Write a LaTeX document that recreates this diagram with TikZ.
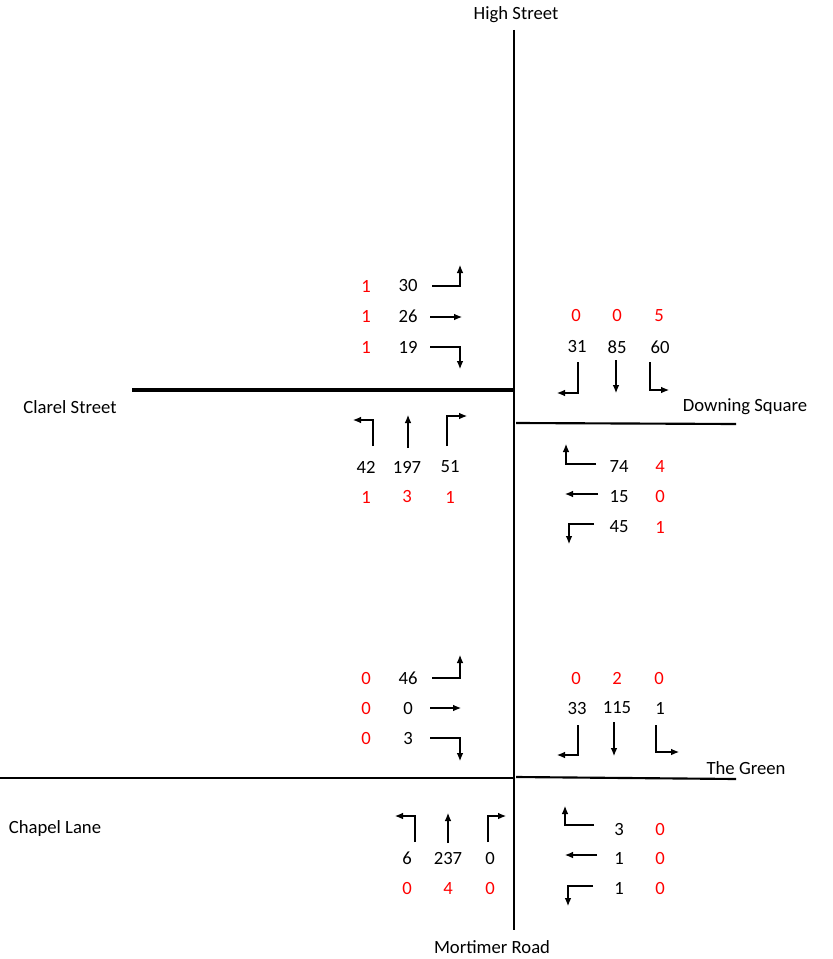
\documentclass[tikz,border=0pt]{standalone}
\usepackage{fontspec}
\setmainfont{Carlito}
\usetikzlibrary{arrows.meta}

\begin{document}
\begin{tikzpicture}[x=0.75pt, y=-0.75pt,
  every node/.style={font=\fontsize{14pt}{16pt}\selectfont, inner sep=0pt},
  road/.style={line width=1.6pt},
  turn/.style={line width=0.8pt, -{Latex[length=6pt,width=5pt]}},
  cnt/.style={text=black},
  hvy/.style={text=red}]
  \useasboundingbox (0,0) rectangle (832,959);

  % roads
  \coordinate (hsN) at (514,30);
  \coordinate (hsS) at (514,930);
  \coordinate (clW) at (132,390);
  \coordinate (clE) at (514,390);
  \coordinate (dsW) at (516,423);
  \coordinate (dsE) at (736,424);
  \coordinate (cpW) at (0,778);
  \coordinate (cpE) at (514,778);
  \coordinate (tgW) at (516,777);
  \coordinate (tgE) at (736,779);
  \draw[road, line width=1.9pt] (hsN) -- (hsS);
  \draw[road, line width=2.3pt] (clW) -- (clE);
  \draw[road] (dsW) -- (dsE);
  \draw[road] (cpW) -- (cpE);
  \draw[road] (tgW) -- (tgE);

  % street names
  \node (high)   at (516,15)  {High Street};
  \node (clarel) at (70,407)  {Clarel Street};
  \node (downing) at (745,407) {Downing Square};
  \node (green)  at (746,768) {The Green};
  \node (chapel) at (55,829)  {Chapel Lane};
  \node (mortimer) at (492,947) {Mortimer Road};

  % Clarel Street approach (upper left)
  \node[hvy] (ca1) at (366,286) {1};  \node[cnt] (cb1) at (408,286) {30};
  \node[hvy] (ca2) at (366,316) {1};  \node[cnt] (cb2) at (408,316) {26};
  \node[hvy] (ca3) at (366,347) {1};  \node[cnt] (cb3) at (408,347) {19};
  \draw[turn] (432,286) -| (460,265);
  \draw[turn] (430,317) -- (462,317);
  \draw[turn] (430,347) -| (460,369);

  % High Street north approach (upper right)
  \node[hvy] (na1) at (576,316) {0};  \node[cnt] (nb1) at (577,347) {31};
  \node[hvy] (na2) at (617,316) {0};  \node[cnt] (nb2) at (617,347) {85};
  \node[hvy] (na3) at (659,316) {5};  \node[cnt] (nb3) at (660,347) {60};
  \draw[turn] (578,362) |- (557,393);
  \draw[turn] (616,360) -- (616,393);
  \draw[turn] (650,362) |- (669,390);

  % High Street south approach (middle left)
  \node[cnt] (sb1) at (366,467) {42};  \node[hvy] (sa1) at (366,497) {1};
  \node[cnt] (sb2) at (407,467) {197}; \node[hvy] (sa2) at (407,497) {3};
  \node[cnt] (sb3) at (450,467) {51};  \node[hvy] (sa3) at (450,497) {1};
  \draw[turn] (373,446) |- (353,420);
  \draw[turn] (408,448) -- (408,415);
  \draw[turn] (447,446) |- (467,416);

  % Downing Square approach (middle right)
  \node[cnt] (db1) at (619,467) {74};  \node[hvy] (da1) at (660,467) {4};
  \node[cnt] (db2) at (619,497) {15};  \node[hvy] (da2) at (660,497) {0};
  \node[cnt] (db3) at (619,527) {45};  \node[hvy] (da3) at (660,527) {1};
  \draw[turn] (596,464) -| (566,444);
  \draw[turn] (598,494) -- (565,494);
  \draw[turn] (594,524) -| (569,544);

  % Chapel Lane approach (lower left)
  \node[hvy] (pa1) at (366,678) {0};  \node[cnt] (pb1) at (408,678) {46};
  \node[hvy] (pa2) at (366,708) {0};  \node[cnt] (pb2) at (408,708) {0};
  \node[hvy] (pa3) at (366,738) {0};  \node[cnt] (pb3) at (408,738) {3};
  \draw[turn] (432,678) -| (460,655);
  \draw[turn] (430,708) -- (461,708);
  \draw[turn] (430,738) -| (460,761);

  % High Street approach (lower right, top)
  \node[hvy] (ma1) at (576,678) {0};  \node[cnt] (mb1) at (577,708) {33};
  \node[hvy] (ma2) at (617,678) {2};  \node[cnt] (mb2) at (617,708) {115};
  \node[hvy] (ma3) at (659,678) {0};  \node[cnt] (mb3) at (660,708) {1};
  \draw[turn] (578,725) |- (557,755);
  \draw[turn] (614,722) -- (614,756);
  \draw[turn] (656,725) |- (679,752);

  % Mortimer Road approach (bottom left)
  \node[cnt] (rb1) at (407,858) {6};   \node[hvy] (ra1) at (407,888) {0};
  \node[cnt] (rb2) at (448,858) {237}; \node[hvy] (ra2) at (448,888) {4};
  \node[cnt] (rb3) at (490,858) {0};   \node[hvy] (ra3) at (490,888) {0};
  \draw[turn] (415,842) |- (395,816);
  \draw[turn] (448,843) -- (448,813);
  \draw[turn] (488,842) |- (506,816);

  % The Green approach (bottom right)
  \node[cnt] (gb1) at (619,829) {3};   \node[hvy] (ga1) at (660,829) {0};
  \node[cnt] (gb2) at (619,858) {1};   \node[hvy] (ga2) at (660,858) {0};
  \node[cnt] (gb3) at (619,888) {1};   \node[hvy] (ga3) at (660,888) {0};
  \draw[turn] (594,825) -| (565,806);
  \draw[turn] (597,855) -- (565,855);
  \draw[turn] (593,886) -| (568,906);
\end{tikzpicture}
\end{document}
